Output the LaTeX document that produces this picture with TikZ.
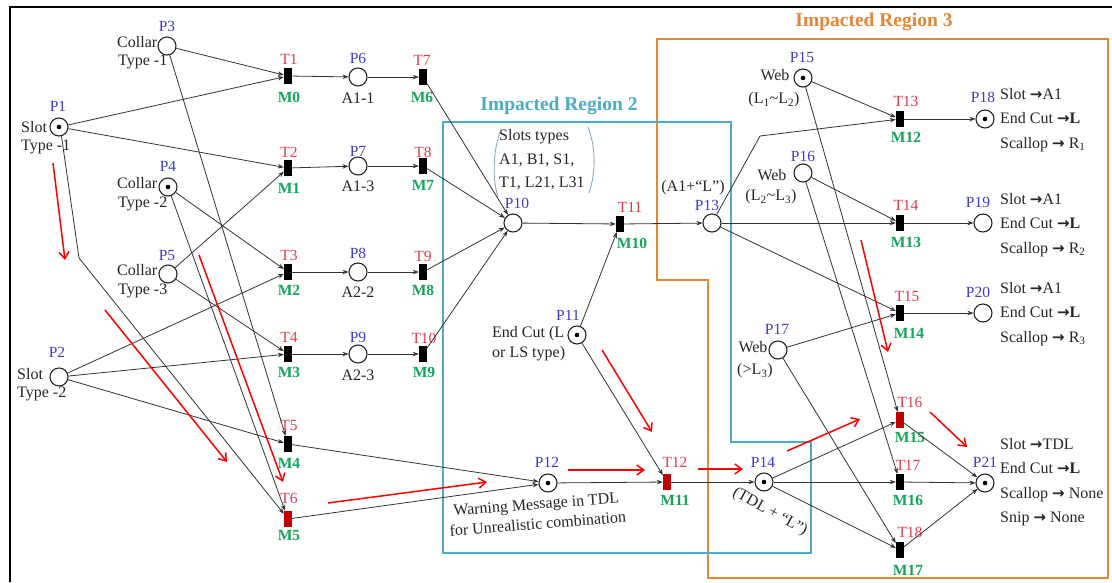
\documentclass[tikz,border=0pt]{standalone}
\usepackage{fontspec}
\setmainfont{Liberation Serif}
\newfontfamily\djv{DejaVu Sans}
\usetikzlibrary{arrows.meta}
\definecolor{pblue}{RGB}{60,60,205}
\definecolor{tred}{RGB}{228,60,75}
\definecolor{mgreen}{RGB}{20,165,90}
\definecolor{dred}{RGB}{190,0,0}
\definecolor{cyanbox}{RGB}{75,172,198}
\definecolor{orgbox}{RGB}{225,135,55}
\definecolor{parenc}{RGB}{130,160,195}
\newcommand\arr{{\djv\bfseries\fontsize{15}{15}\selectfont →}}
\begin{document}
\begin{tikzpicture}[x=1pt,y=-1pt,
 every node/.style={font=\fontsize{16}{20}\selectfont, inner sep=0pt},
 place/.style={circle,draw=black!85,line width=1.1pt,minimum size=18pt},
 tok/.style={place,path picture={\fill[black] (path picture bounding box.center) circle (2.3pt);}},
 trans/.style={rectangle,fill=black,minimum width=8pt,minimum height=16pt},
 rtrans/.style={trans,fill=dred},
 plab/.style={text=pblue,font=\fontsize{15.5}{20}\selectfont},
 tlab/.style={text=tred,font=\fontsize{15.5}{20}\selectfont},
 mlab/.style={text=mgreen,font=\fontsize{15.5}{20}\selectfont\bfseries},
 txt/.style={text=black!85},
 blk/.style={txt,align=left,anchor=west,font=\fontsize{16}{24.5}\selectfont},
 arc/.style={-{Stealth[length=6pt,width=4.5pt]},line width=0.8pt,draw=black!80},
 redarr/.style={-{Straight Barb[length=7pt,width=10pt]},draw=red,line width=1.5pt},
 title/.style={font=\fontsize{19.5}{22}\selectfont\bfseries}
]
\useasboundingbox (0,0) rectangle (1112,582);
\fill[white] (0,0) rectangle (1112,582);
\draw[line width=2.5pt] (10,582) -- (10,7) -- (1112,7);

% regions
\draw[orgbox,line width=2.2pt] (657,39) -- (1108,39) -- (1108,578) -- (708,578) -- (708,280) -- (657,280) -- cycle;
\draw[cyanbox,line width=1.8pt] (443,122) -- (731,122) -- (731,442) -- (811,442) -- (811,553) -- (443,553) -- cycle;
\node[title,text=orgbox] (R3) at (874,22) {Impacted Region 3};
\node[title,text=cyanbox] (R2) at (559,106) {Impacted Region 2};

% places
\node[tok] (P1) at (59,127) {};
\node[place] (P2) at (59,377) {};
\node[place] (P3) at (167,46) {};
\node[tok] (P4) at (168,187) {};
\node[place] (P5) at (168,274) {};
\node[place] (P6) at (358,77) {};
\node[place] (P7) at (358,166) {};
\node[place] (P8) at (358,272) {};
\node[place] (P9) at (358,354) {};
\node[place] (P10) at (513,223) {};
\node[tok] (P11) at (577,335) {};
\node[tok] (P12) at (548,483) {};
\node[place] (P13) at (712,223) {};
\node[tok] (P14) at (764,482) {};
\node[tok] (P15) at (803,78) {};
\node[place] (P16) at (803,173) {};
\node[place] (P17) at (778,350) {};
\node[tok] (P18) at (985,119) {};
\node[place] (P19) at (983,223) {};
\node[place] (P20) at (983,313) {};
\node[tok] (P21) at (985,483) {};

% transitions
\node[trans] (T1) at (288,76) {};
\node[trans] (T2) at (288,168) {};
\node[trans] (T3) at (288,272) {};
\node[trans] (T4) at (288,354) {};
\node[trans] (T5) at (288,444) {};
\node[rtrans] (T6) at (288,519) {};
\node[trans] (T7) at (423,77) {};
\node[trans] (T8) at (423,166) {};
\node[trans] (T9) at (423,272) {};
\node[trans] (T10) at (423,354) {};
\node[trans] (T11) at (620,224) {};
\node[rtrans] (T12) at (667,482) {};
\node[trans] (T13) at (900,119) {};
\node[trans] (T14) at (900,223) {};
\node[trans] (T15) at (900,313) {};
\node[rtrans] (T16) at (900,420) {};
\node[trans] (T17) at (900,482) {};
\node[trans] (T18) at (900,550) {};

% place labels
\node[plab] (lP1) at (58,106) {P1};
\node[plab] (lP2) at (57,352) {P2};
\node[plab] (lP3) at (167,26) {P3};
\node[plab] (lP4) at (168,166) {P4};
\node[plab] (lP5) at (167,255) {P5};
\node[plab] (lP6) at (358,58) {P6};
\node[plab] (lP7) at (358,151) {P7};
\node[plab] (lP8) at (358,253) {P8};
\node[plab] (lP9) at (358,337) {P9};
\node[plab] (lP10) at (517,203) {P10};
\node[plab] (lP11) at (568,315) {P11};
\node[plab] (lP12) at (547,462) {P12};
\node[plab] (lP13) at (707,205) {P13};
\node[plab] (lP14) at (763,462) {P14};
\node[plab] (lP15) at (802,57) {P15};
\node[plab] (lP16) at (803,156) {P16};
\node[plab] (lP17) at (777,329) {P17};
\node[plab] (lP18) at (983,97) {P18};
\node[plab] (lP19) at (978,202) {P19};
\node[plab] (lP20) at (978,292) {P20};
\node[plab] (lP21) at (985,462) {P21};

% transition labels
\node[tlab] (lT1) at (289,59) {T1};   \node[mlab] (lM0) at (289,97) {M0};
\node[tlab] (lT2) at (289,152) {T2};  \node[mlab] (lM1) at (289,188) {M1};
\node[tlab] (lT3) at (289,255) {T3};  \node[mlab] (lM2) at (289,290) {M2};
\node[tlab] (lT4) at (289,337) {T4};  \node[mlab] (lM3) at (289,372) {M3};
\node[tlab] (lT5) at (289,425) {T5};  \node[mlab] (lM4) at (289,463) {M4};
\node[tlab] (lT6) at (289,498) {T6};  \node[mlab] (lM5) at (289,535) {M5};
\node[tlab] (lT7) at (422,60) {T7};   \node[mlab] (lM6) at (422,97) {M6};
\node[tlab] (lT8) at (423,152) {T8};  \node[mlab] (lM7) at (423,185) {M7};
\node[tlab] (lT9) at (423,256) {T9};  \node[mlab] (lM8) at (423,290) {M8};
\node[tlab] (lT10) at (424,338) {T10}; \node[mlab] (lM9) at (424,372) {M9};
\node[tlab] (lT11) at (630,207) {T11}; \node[mlab] (lM10) at (632,243) {M10};
\node[tlab] (lT12) at (675,462) {T12}; \node[mlab] (lM11) at (675,500) {M11};
\node[tlab] (lT13) at (906,101) {T13}; \node[mlab] (lM12) at (906,137) {M12};
\node[tlab] (lT14) at (906,205) {T14}; \node[mlab] (lM13) at (906,242) {M13};
\node[tlab] (lT15) at (907,296) {T15}; \node[mlab] (lM14) at (909,333) {M14};
\node[tlab] (lT16) at (910,402) {T16}; \node[mlab] (lM15) at (910,437) {M15};
\node[tlab] (lT17) at (908,465) {T17}; \node[mlab] (lM16) at (908,500) {M16};
\node[tlab] (lT18) at (910,532) {T18}; \node[mlab] (lM17) at (908,570) {M17};

% texts
\node[txt,anchor=west] (s1a) at (21,127) {Slot};
\node[txt,anchor=west] (s1b) at (21,147) {Type -1};
\node[txt,anchor=west] (s2a) at (17,374) {Slot};
\node[txt,anchor=west] (s2b) at (17,394) {Type -2};
\node[txt,anchor=west] (c1a) at (117,42) {Collar};
\node[txt,anchor=west] (c1b) at (118,62) {Type -1};
\node[txt,anchor=west] (c2a) at (117,183) {Collar};
\node[txt,anchor=west] (c2b) at (118,204) {Type -2};
\node[txt,anchor=west] (c3a) at (117,270) {Collar};
\node[txt,anchor=west] (c3b) at (118,291) {Type -3};
\node[txt] (a11) at (358,98) {A1-1};
\node[txt] (a13) at (358,186) {A1-3};
\node[txt] (a22) at (358,292) {A2-2};
\node[txt] (a23) at (358,375) {A2-3};
\node[blk,font=\fontsize{16}{23.5}\selectfont] (stypes) at (499,160) {Slots types\\A1, B1, S1,\\T1, L21, L31};
\draw[parenc,line width=0.8pt] (501,129) .. controls (493,150) and (492,178) .. (498,197);
\draw[parenc,line width=0.8pt] (588,127) .. controls (596,148) and (596,172) .. (589,193);
\node[blk,font=\fontsize{16}{20}\selectfont] (endcut) at (492,344) {End Cut (L\\or LS type)};
\node[txt] (a1l) at (693,188) {(A1+“L”)};
\node[txt,align=center,rotate=4.5] (warn) at (537,514) {Warning Message in TDL\\for Unrealistic combination};
\node[txt,rotate=-29] (tdll) at (770,512) {(TDL + “L”)};
\node[txt] (w15a) at (775,75) {Web};
\node[txt] (w15b) at (774,100) {(L\textsubscript{1}\textasciitilde L\textsubscript{2})};
\node[txt] (w16a) at (772,175) {Web};
\node[txt] (w16b) at (771,197) {(L\textsubscript{2}\textasciitilde L\textsubscript{3})};
\node[txt] (w17a) at (753,347) {Web};
\node[txt] (w17b) at (755,371) {(>L\textsubscript{3})};
\node[blk] (o18) at (1000,120) {Slot \arr A1\\End Cut \arr\textbf{L}\\Scallop \arr\ R\textsubscript{1}};
\node[blk] (o19) at (1000,225) {Slot \arr A1\\End Cut \arr\textbf{L}\\Scallop \arr\ R\textsubscript{2}};
\node[blk] (o20) at (1000,314) {Slot \arr A1\\End Cut \arr\textbf{L}\\Scallop \arr\ R\textsubscript{3}};
\node[blk] (o21) at (1000,482) {Slot \arr TDL\\End Cut \arr\textbf{L}\\Scallop \arr\ None\\Snip \arr\ None};

% arcs
\coordinate (b1) at (79,258);
\coordinate (b2) at (760,136);
\draw[arc] (P3) -- (T1);
\draw[arc] (P1) -- (T1);
\draw[arc] (P1) -- (T2);
\draw[arc] (P5) -- (T2);
\draw[arc] (P4) -- (T3);
\draw[arc] (P2) -- (T3);
\draw[arc] (P5) -- (T4);
\draw[arc] (P2) -- (T4);
\draw[arc] (P3) -- (T5);
\draw[arc] (P2) -- (T5);
\draw[arc] (P4) -- (T6);
\draw[arc] (P1.-75) -- (b1) -- (T6);
\draw[arc] (T1) -- (P6); \draw[arc] (P6) -- (T7); \draw[arc] (T7) -- (P10);
\draw[arc] (T2) -- (P7); \draw[arc] (P7) -- (T8); \draw[arc] (T8) -- (P10);
\draw[arc] (T3) -- (P8); \draw[arc] (P8) -- (T9); \draw[arc] (T9) -- (P10);
\draw[arc] (T4) -- (P9); \draw[arc] (P9) -- (T10); \draw[arc] (T10) -- (P10);
\draw[arc] (T5) -- (P12);
\draw[arc] (T6) -- (P12);
\draw[arc] (P10) -- (T11);
\draw[arc] (P11) -- (T11);
\draw[arc] (T11) -- (P13);
\draw[arc] (P11) -- (T12);
\draw[arc] (P12) -- (T12);
\draw[arc] (T12) -- (P14);
\draw[arc] (P13) -- (b2) -- (T13);
\draw[arc] (P13) -- (T14);
\draw[arc] (P13) -- (T15);
\draw[arc] (P15) -- (T13);
\draw[arc] (P15) -- (T16);
\draw[arc] (P16) -- (T14);
\draw[arc] (P16) -- (T17);
\draw[arc] (P17) -- (T15);
\draw[arc] (P17) -- (T18);
\draw[arc] (P14) -- (T16);
\draw[arc] (P14) -- (T17);
\draw[arc] (P14) -- (T18);
\draw[arc] (T13) -- (P18);
\draw[arc] (T14) -- (P19);
\draw[arc] (T15) -- (P20);
\draw[arc] (T16) -- (P21);
\draw[arc] (T17) -- (P21);
\draw[arc] (T18) -- (P21);

% red annotation arrows
\draw[redarr] (53,163) -- (65,260);
\draw[redarr] (105,310) -- (227,462);
\draw[redarr] (199,255) -- (283,482);
\draw[redarr] (328,503) -- (487,482);
\draw[redarr] (568,470) -- (645,470);
\draw[redarr] (602,350) -- (652,432);
\draw[redarr] (698,469) -- (743,469);
\draw[redarr] (787,451) -- (860,419);
\draw[redarr] (861,240) -- (888,352);
\draw[redarr] (930,412) -- (967,447);
\end{tikzpicture}
\end{document}
